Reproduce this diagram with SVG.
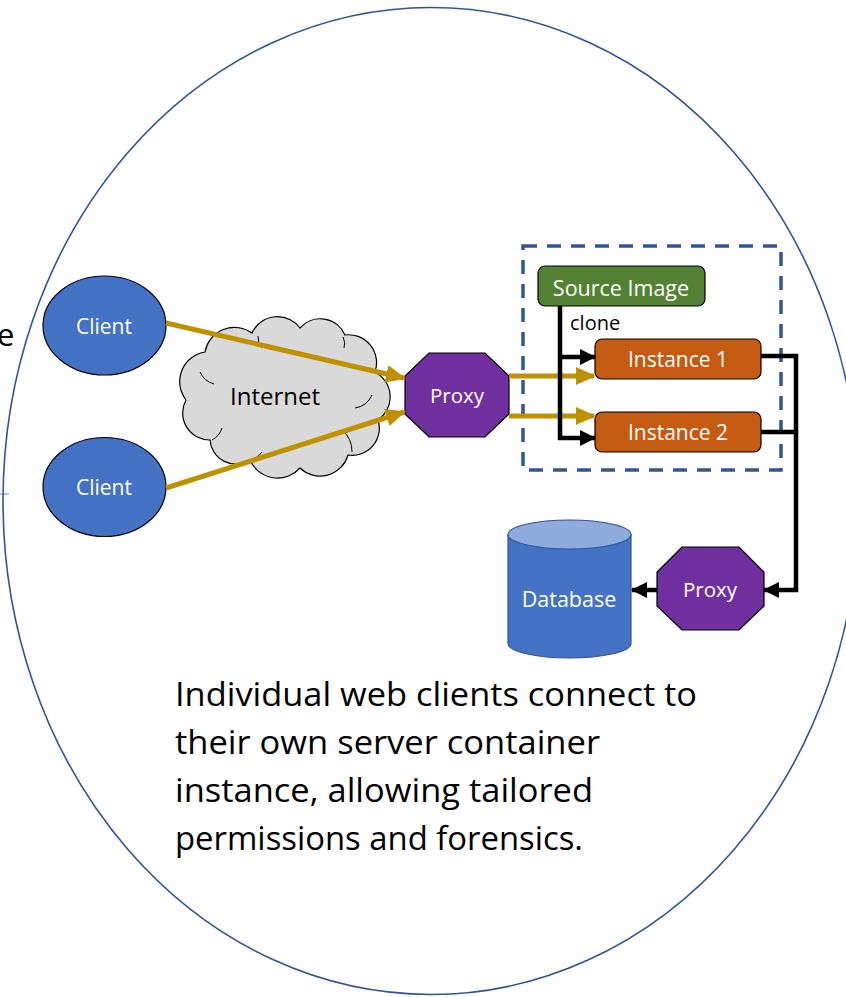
<svg xmlns="http://www.w3.org/2000/svg" width="846" height="997" viewBox="0 0 846 997">
<style>
.lbl{font-family:"Open Sans","Noto Sans",sans-serif;fill:#fff;text-anchor:middle;dominant-baseline:central}
.blk{font-family:"Open Sans","Noto Sans",sans-serif;fill:#000}
.gold{stroke:#BF9000;stroke-width:5;fill:none}
.bl{stroke:#000;stroke-width:4.5;fill:none}
.node{stroke:#000;stroke-width:1.2}
</style>
<defs>
<marker id="ag" markerUnits="userSpaceOnUse" markerWidth="20" markerHeight="20" viewBox="0 0 20 20" refX="18" refY="10" orient="auto"><path d="M0,1 L20,10 L0,19 Z" fill="#BF9000"/></marker>
<marker id="ab" markerUnits="userSpaceOnUse" markerWidth="16" markerHeight="18" viewBox="0 0 16 18" refX="15" refY="9" orient="auto"><path d="M0,1 L16,9 L0,17 Z" fill="#000"/></marker>
</defs>
<rect width="846" height="997" fill="#fff"/>
<text class="blk" x="-3" y="346" font-size="31">e</text>
<line x1="0" y1="494" x2="9" y2="494" stroke="#8497B0" stroke-width="1.2"/>
<ellipse id="boundary" cx="431" cy="501" rx="428" ry="493.5" fill="none" stroke="#2F5597" stroke-width="1.6"/>
<rect id="container-group" x="523" y="246" width="258" height="224" fill="none" stroke="#2F5597" stroke-width="3.5" stroke-dasharray="14,10"/>
<g id="client1"><ellipse class="node" cx="104.5" cy="325.5" rx="61.5" ry="49.5" fill="#4472C4"/><text class="lbl" x="104" y="326" font-size="21">Client</text></g>
<g id="client2"><ellipse class="node" cx="104.5" cy="487" rx="61.5" ry="49.5" fill="#4472C4"/><text class="lbl" x="104" y="487" font-size="21">Client</text></g>
<g id="internet">
<path class="node" fill="#D9D9D9" d="M186,400 A30,30 0 0 1 205,352 A30,30 0 0 1 252,333 A28,28 0 0 1 300,328 A27,27 0 0 1 345,335 A28,28 0 0 1 375,372 A28,28 0 0 1 378,420 A27,27 0 0 1 348,455 A29,29 0 0 1 300,468 A30,30 0 0 1 250,460 A26,26 0 0 1 210,440 A27,27 0 0 1 186,400 Z"/>
<path d="M200,372 A22,22 0 0 0 214,384 M258,336 A16,16 0 0 0 262,348 M343,337 A14,14 0 0 1 344,348 M372,395 A22,22 0 0 1 355,408 M342,430 A28,28 0 0 1 352,452 M250,460 A20,20 0 0 0 262,452 M212,440 A20,20 0 0 0 222,428" fill="none" stroke="#000" stroke-width="1"/>
<text x="275" y="395" font-size="24" font-family="Open Sans, Noto Sans, sans-serif" fill="#000" text-anchor="middle" dominant-baseline="central">Internet</text>
</g>
<g id="proxy1"><polygon class="node" fill="#7030A0" points="429,353 485,353 509,376 509,414 485,437 429,437 405,414 405,376"/><text class="lbl" x="457" y="395" font-size="20.5">Proxy</text></g>
<g id="source-image"><rect class="node" x="538" y="266" width="167" height="40" rx="7" fill="#548235"/><text class="lbl" x="621" y="287" font-size="21.5">Source Image</text></g>
<g id="instance1"><rect class="node" x="595" y="339" width="166" height="40" rx="7" fill="#C55A11"/><text class="lbl" x="678" y="359" font-size="21">Instance 1</text></g>
<g id="instance2"><rect class="node" x="595" y="412" width="166" height="40" rx="7" fill="#C55A11"/><text class="lbl" x="678" y="432" font-size="21">Instance 2</text></g>
<g id="database">
<path d="M508,534.5 V643.5 A61.5,14.5 0 0 0 631,643.5 V534.5 Z" fill="#4472C4" stroke="#2F5597" stroke-width="1.2"/>
<ellipse cx="569.5" cy="534.5" rx="61.5" ry="14.5" fill="#8FAADC" stroke="#2F5597" stroke-width="1.2"/>
<text class="lbl" x="569" y="598" font-size="21.5">Database</text>
</g>
<g id="proxy2"><polygon class="node" fill="#7030A0" points="682,547 739,547 764,572 764,606 739,630 682,630 657,606 657,572"/><text class="lbl" x="710" y="589" font-size="20.5">Proxy</text></g>
<g id="connectors">
<line class="gold" x1="166" y1="323" x2="404" y2="378" marker-end="url(#ag)"/>
<line class="gold" x1="166" y1="488" x2="404" y2="412" marker-end="url(#ag)"/>
<line class="gold" x1="509" y1="376" x2="594" y2="376" marker-end="url(#ag)"/>
<line class="gold" x1="509" y1="416" x2="594" y2="416" marker-end="url(#ag)"/>
<path class="bl" d="M560,306 V438 H595" marker-end="url(#ab)"/>
<path class="bl" d="M560,357 H595" marker-end="url(#ab)"/>
<path class="bl" d="M761,356 H796 V590 H764" marker-end="url(#ab)"/>
<path class="bl" d="M761,432 H796"/>
<path class="bl" d="M657,590 H632" marker-end="url(#ab)"/>
<text class="blk" x="570" y="330" font-size="20">clone</text>
</g>
<g id="caption" class="blk" font-size="32">
<text x="175" y="706" textLength="522" lengthAdjust="spacingAndGlyphs">Individual web clients connect to</text>
<text x="175" y="754" textLength="425" lengthAdjust="spacingAndGlyphs">their own server container</text>
<text x="175" y="802" textLength="418" lengthAdjust="spacingAndGlyphs">instance, allowing tailored</text>
<text x="175" y="850" textLength="408" lengthAdjust="spacingAndGlyphs">permissions and forensics.</text>
</g>
</svg>
